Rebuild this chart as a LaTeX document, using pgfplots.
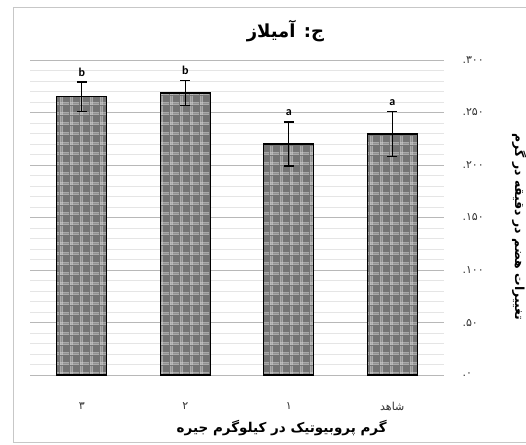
\documentclass[border=0pt]{standalone}
\usepackage{pgfplots}
\pgfplotsset{compat=1.18}
\usepackage{pgfplotstable}
\usepackage{fontspec}
\usetikzlibrary{patterns.meta}
\setmainfont{Carlito}
\newfontfamily\arabicfont[Script=Arabic]{DejaVu Sans}
\TeXXeTstate=1

% plaid fill for the bars: light double lines over a mid-grey base
\tikzdeclarepattern{
  name=plaid,
  type=uncolored,
  bounding box={(0bp,0bp) and (10bp,10bp)},
  tile size={(10bp,10bp)},
  code={
    \pgfsetlinewidth{0.7bp}
    \pgfpathmoveto{\pgfqpoint{0bp}{0.8bp}}\pgflineto{\pgfqpoint{10bp}{0.8bp}}
    \pgfpathmoveto{\pgfqpoint{0bp}{2.4bp}}\pgflineto{\pgfqpoint{10bp}{2.4bp}}
    \pgfpathmoveto{\pgfqpoint{0.8bp}{0bp}}\pgflineto{\pgfqpoint{0.8bp}{10bp}}
    \pgfpathmoveto{\pgfqpoint{2.4bp}{0bp}}\pgflineto{\pgfqpoint{2.4bp}{10bp}}
    \pgfusepath{stroke}
  }
}

% amylase activity: mean, standard error, significance group
\pgfplotstableread{
x y e g
0 265.0 14.0 b
1 268.6 12.0 b
2 220.0 21.0 a
3 229.5 21.5 a
}\amylase

\begin{document}
\begin{tikzpicture}[x=1bp,y=1bp]
\useasboundingbox (0,0) rectangle (526,445);
\draw[black!22, line width=0.8bp] (13,3) rectangle (600,438);
\begin{axis}[
  at={(30bp,70bp)}, anchor=south west,
  scale only axis, width=414bp, height=315bp,
  xmin=-0.5, xmax=3.5, ymin=0, ymax=300,
  clip=false,
  axis line style={draw=none},
  tick style={draw=none},
  xtick={0,1,2,3},
  xticklabels={{\beginR ۳\endR},{\beginR ۲\endR},{\beginR ۱\endR},{\beginR شاهد\endR}},
  xticklabel style={font=\arabicfont\fontsize{11bp}{13bp}\selectfont, yshift=-24bp, text=black!80},
  ytick={0,50,...,300},
  yticklabels={۰.,۵۰.,۱۰۰.,۱۵۰.,۲۰۰.,۲۵۰.,۳۰۰.},
  yticklabel pos=right,
  yticklabel style={font=\arabicfont\fontsize{11bp}{13bp}\selectfont, anchor=west, xshift=15bp, text=black!80},
  minor y tick num=4,
  ymajorgrids, yminorgrids,
  major grid style={black!28, line width=0.9bp},
  minor grid style={black!10, line width=0.8bp},
  title={\beginR ج: آمیلاز\endR},
  title style={font=\arabicfont\bfseries\fontsize{18bp}{20bp}\selectfont, at={(axis description cs:0.617,1.072)}, anchor=center},
  xlabel={\beginR گرم پروبیوتیک در کیلوگرم جیره\endR},
  xlabel style={font=\arabicfont\bfseries\fontsize{13.5bp}{15bp}\selectfont, at={(axis description cs:0.608,-0.168)}, anchor=center},
  ylabel={\beginR تغییرات هضم در دقیقه در گرم\endR},
  ylabel style={font=\arabicfont\bfseries\fontsize{12.5bp}{14bp}\selectfont, at={(axis description cs:1.182,0.47)}, anchor=center, rotate=180},
]
\addplot[ybar, bar width=50bp, draw=black, line width=1.3bp,
  fill=black!55,
  postaction={pattern=plaid, pattern color=black!22},
  error bars/.cd, y dir=both, y explicit,
  error bar style={black, line width=1.2bp},
  error mark options={rotate=90, mark size=5bp, line width=1.2bp, black}]
  table[x=x, y=y, y error=e] {\amylase};
\addplot[draw=none, mark=none,
  nodes near coords, point meta=explicit symbolic,
  nodes near coords style={anchor=base, inner sep=0pt, yshift=6bp,
    font=\bfseries\fontsize{12bp}{14bp}\selectfont, text=black}]
  table[x=x, y expr=\thisrow{y}+\thisrow{e}, meta=g] {\amylase};
\end{axis}
\end{tikzpicture}
\end{document}
